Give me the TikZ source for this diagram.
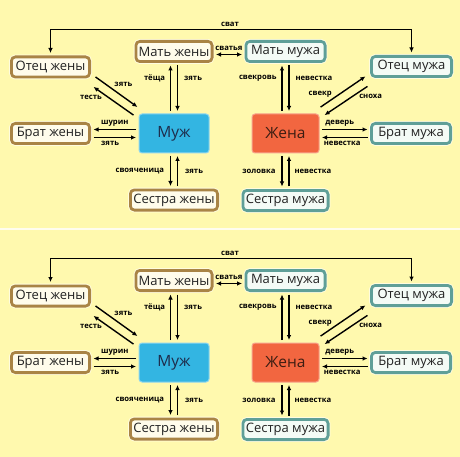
\documentclass[tikz,border=0pt]{standalone}
\usepackage{fontspec}
\setmainfont{Open Sans}
\usetikzlibrary{calc,arrows.meta}
\definecolor{bg}{HTML}{FFF9AE}
\definecolor{brn}{HTML}{A98445}
\definecolor{tea}{HTML}{5F9F98}
\definecolor{wfill}{HTML}{FFFCEB}
\definecolor{hfill}{HTML}{F4FBF6}
\definecolor{txt}{HTML}{222222}
\definecolor{mzfill}{HTML}{33B5E2}
\definecolor{zhfill}{HTML}{F26640}
\definecolor{mztxt}{HTML}{1E2B4A}
\definecolor{zhtxt}{HTML}{3D1D12}
\begin{document}
\begin{tikzpicture}[x=1pt,y=-1pt,
  rel/.style={draw, line width=2.8pt, rounded corners=4pt, minimum height=20.2pt,
    inner sep=1pt, text=txt, font=\fontsize{13}{13}\selectfont,
    preaction={draw=white, line width=4.6pt, opacity=0.6}},
  wside/.style={rel, draw=brn, fill=wfill},
  hside/.style={rel, draw=tea, fill=hfill},
  mainbox/.style={rounded corners=3pt, minimum width=70pt, minimum height=39pt,
    line width=1pt, font=\fontsize{15.5}{15.5}\selectfont},
  arr/.style={-{Latex[length=5pt,width=4.6pt]}, line width=1.4pt, shorten >=2.5pt, shorten <=2.5pt},
  arrb/.style={{Latex[length=5pt,width=4.6pt]}-{Latex[length=5pt,width=4.6pt]}, line width=1.4pt, shorten >=2.5pt, shorten <=2.5pt},
  lab/.style={font=\bfseries\fontsize{7.7}{7.7}\selectfont, inner sep=0.8pt, text=black}
]
\useasboundingbox (0,0) rectangle (460,457);
\fill[bg] (0,0) rectangle (460,457);
\draw[white, line width=1.6pt, opacity=0.8] (0,229) -- (460,229);
\foreach \o/\s in {0/a,229/b}{
\begin{scope}[yshift=-\o pt]
  % nodes
  \node[wside, minimum width=78.2pt] (ow\s) at (50.5,67) {Отец жены};
  \node[wside, minimum width=76.2pt] (mw\s) at (174,51.5) {Мать жены};
  \node[hside, minimum width=79.2pt] (mm\s) at (285.5,51.5) {Мать мужа};
  \node[hside, minimum width=80.2pt] (om\s) at (411.5,66.5) {Отец мужа};
  \node[wside, minimum width=78.2pt] (bw\s) at (50.5,133.5) {Брат жены};
  \node[hside, minimum width=79.2pt] (bm\s) at (411,133.5) {Брат мужа};
  \node[wside, minimum width=87.2pt] (sw\s) at (174,200) {Сестра жены};
  \node[hside, minimum width=85.2pt] (sm\s) at (285.5,200.5) {Сестра мужа};
  \node[mainbox, fill=mzfill, draw=mzfill!55!white, text=mztxt] (mz\s) at (174,133.5) {Муж};
  \node[mainbox, fill=zhfill, draw=zhfill!60!white, text=zhtxt, minimum width=67pt] (zh\s) at (285.5,133.5) {Жена};
  \coordinate (svat\s) at (230,29.5);
  % сват
  \draw[arrb] (ow\s.north) |- (svat\s) -| (om\s.north);
  \node[lab, above=2pt] (svl\s) at (svat\s) {сват};
  % сватья
  \draw[arrb] ($(mw\s.east)+(0,3)$) -- ($(mm\s.west)+(0,3)$) node[lab, midway, above=2.5pt] {сватья};
  % Отец жены - Муж
  \draw[arr] ($(ow\s.south east)+(2.5,-3)$) -- ($(mz\s.north west)+(1,-5)$)
     node[lab, pos=0.4, above right=1pt] {зять};
  \draw[arr] ($(mz\s.north west)+(-3,3)$) -- ($(ow\s.south east)+(0.5,7)$)
     node[lab, pos=0.73, below left=0pt] {тесть};
  % Мать жены - Муж
  \draw[arr] ($(mz\s.north)+(-3.5,0)$) -- ($(mw\s.south)+(-3.5,0)$) node[lab, pos=0.7, left=4pt] {тёща};
  \draw[arr] ($(mw\s.south)+(3.5,0)$) -- ($(mz\s.north)+(3.5,0)$) node[lab, pos=0.3, right=5pt] {зять};
  % Мать мужа - Жена
  \draw[arr] ($(zh\s.north)+(-3.5,0)$) -- ($(mm\s.south)+(-3.5,0)$) node[lab, pos=0.7, left=4pt] {свекровь};
  \draw[arr] ($(mm\s.south)+(3.5,0)$) -- ($(zh\s.north)+(3.5,0)$) node[lab, pos=0.3, right=5pt] {невестка};
  % Отец мужа - Жена
  \draw[arr] ($(zh\s.north east)+(-1,-5)$) -- ($(om\s.south west)+(-2.5,-3)$)
     node[lab, pos=0.3, anchor=south east] {свекр};
  \draw[arr] ($(om\s.south west)+(-0.5,7)$) -- ($(zh\s.north east)+(3,3)$)
     node[lab, pos=0.25, anchor=north west] {сноха};
  % Брат жены - Муж
  \draw[arr] ($(mz\s.west)+(0,-4)$) -- ($(bw\s.east)+(0,-4)$) node[lab, midway, above=2pt] {шурин};
  \draw[arr] ($(bw\s.east)+(0,4)$) -- ($(mz\s.west)+(0,4)$) node[lab, pos=0.4, below=2pt] {зять};
  % Жена - Брат мужа
  \draw[arr] ($(zh\s.east)+(0,-4)$) -- ($(bm\s.west)+(0,-4)$) node[lab, pos=0.4, above=2pt] {деверь};
  \draw[arr] ($(bm\s.west)+(0,4)$) -- ($(zh\s.east)+(0,4)$) node[lab, pos=0.55, below=2pt] {невестка};
  % Муж - Сестра жены
  \draw[arr] ($(mz\s.south)+(-3.5,0)$) -- ($(sw\s.north)+(-3.5,0)$) node[lab, midway, left=5pt] {свояченица};
  \draw[arr] ($(sw\s.north)+(3.5,0)$) -- ($(mz\s.south)+(3.5,0)$) node[lab, midway, right=6pt] {зять};
  % Жена - Сестра мужа
  \draw[arr] ($(zh\s.south)+(-3.5,0)$) -- ($(sm\s.north)+(-3.5,0)$) node[lab, midway, left=5pt] {золовка};
  \draw[arr] ($(sm\s.north)+(3.5,0)$) -- ($(zh\s.south)+(3.5,0)$) node[lab, midway, right=4pt] {невестка};
\end{scope}
}
\end{tikzpicture}
\end{document}
